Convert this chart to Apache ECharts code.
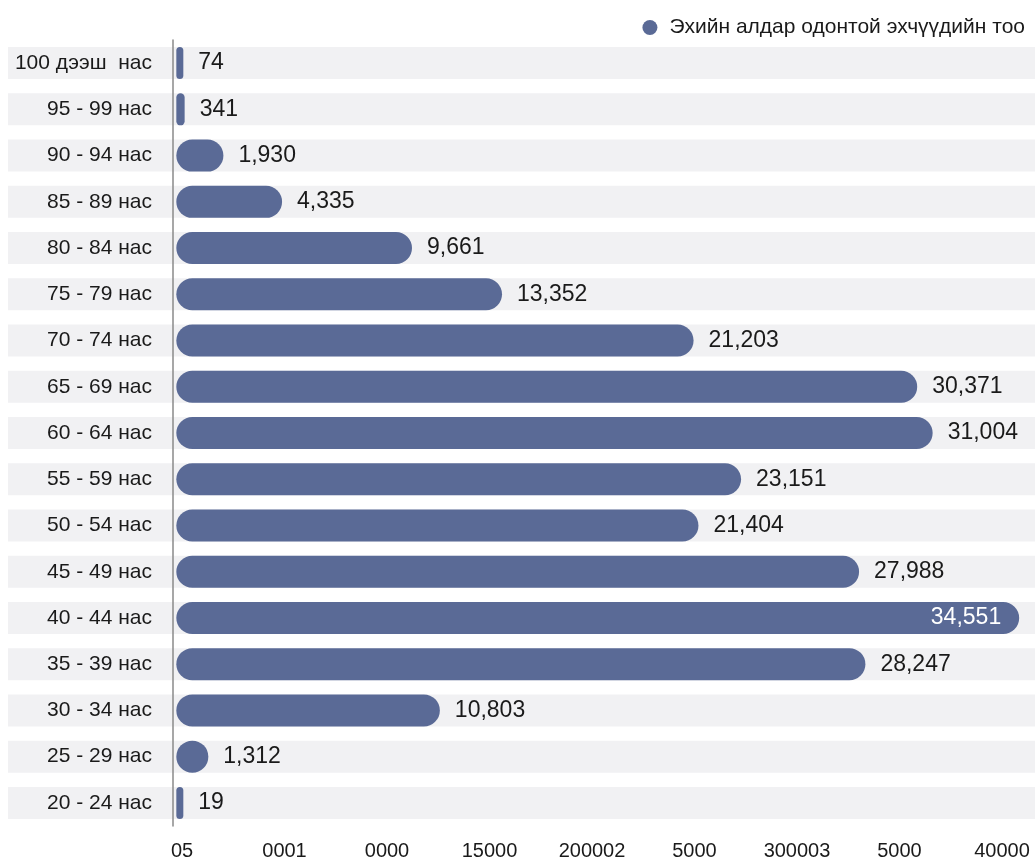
<!DOCTYPE html>
<html>
<head>
<meta charset="utf-8">
<script src="https://cdn.jsdelivr.net/npm/echarts@6/dist/echarts.min.js"></script>
<style>
  html, body { margin: 0; padding: 0; background: #ffffff; }
  #chart { width: 1035px; height: 861px; }
</style>
</head>
<body>
<div id="chart"></div>
<script>
const seriesName = 'Эхийн алдар одонтой эхчүүдийн тоо';
const categories = ['100 дээш  нас', '95 - 99 нас', '90 - 94 нас', '85 - 89 нас', '80 - 84 нас',
  '75 - 79 нас', '70 - 74 нас', '65 - 69 нас', '60 - 64 нас', '55 - 59 нас', '50 - 54 нас',
  '45 - 49 нас', '40 - 44 нас', '35 - 39 нас', '30 - 34 нас', '25 - 29 нас', '20 - 24 нас'];
const values = [74, 341, 1930, 4335, 9661, 13352, 21203, 30371, 31004, 23151, 21404,
  27988, 34551, 28247, 10803, 1312, 19];
const tickLabels = ['05', '0001', '0000', '15000', '200002', '5000', '300003', '5000', '40000'];
const tickSlots = [0, 1, 2, 3, 4, 5, 6, 7, 8];

const FONT = "'Liberation Sans', Arial, sans-serif";
const BAR = '#5a6a96';
const fmt = v => v.toLocaleString('en-US');
const maxV = Math.max(...values);

const chart = echarts.init(document.getElementById('chart'), null, { renderer: 'canvas' });
chart.setOption({
  animation: false,
  textStyle: { fontFamily: FONT },
  legend: {
    data: [{ name: seriesName, icon: 'circle' }],
    right: 5, top: 12,
    itemWidth: 15, itemHeight: 15,
    textStyle: { fontSize: 21, color: '#1a1a1a', fontFamily: FONT, padding: [0, 0, 0, 7] }
  },
  grid: { left: 8, right: 0, top: 40, bottom: 35, containLabel: false },
  xAxis: [
    { type: 'value', min: -6900, max: 35200, show: false, splitLine: { show: false } },
    {
      type: 'value', position: 'bottom', min: -1.6976, max: 8.322,
      axisLine: { show: false }, axisTick: { show: false }, splitLine: { show: false },
      axisLabel: {
        customValues: tickSlots,
        formatter: v => tickLabels[Math.round(v)],
        fontSize: 20, color: '#1a1a1a', fontFamily: FONT, margin: 15
      }
    }
  ],
  yAxis: {
    type: 'category', data: categories, inverse: true,
    position: 'left', offset: -165, z: 10,
    axisLine: { show: true, onZero: false, lineStyle: { color: '#8a8a8a', width: 1.5 } },
    axisTick: { show: false },
    axisLabel: { fontSize: 21, color: '#1a1a1a', fontFamily: FONT, margin: 21 }
  },
  series: [{
    name: seriesName,
    type: 'bar',
    xAxisIndex: 0,
    barWidth: 32,
    barMinHeight: 7,
    showBackground: true,
    backgroundStyle: { color: '#f1f1f3' },
    itemStyle: { color: BAR, borderRadius: 16 },
    label: {
      show: true, position: 'right', distance: 15,
      fontSize: 23, color: '#1a1a1a', fontFamily: FONT,
      formatter: p => fmt(p.value)
    },
    data: values.map(v => v === maxV
      ? { value: v, label: { position: 'insideRight', color: '#ffffff', distance: 18 } }
      : v)
  }]
});
</script>
</body>
</html>
